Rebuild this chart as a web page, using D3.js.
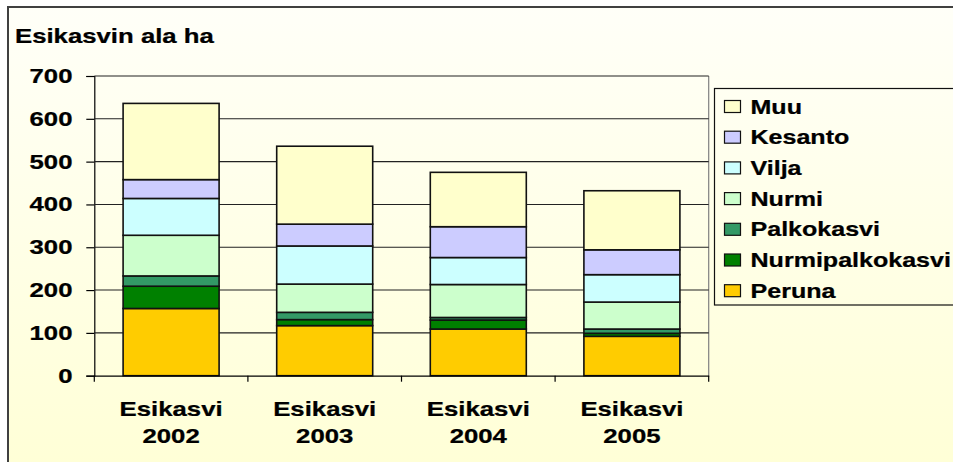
<!DOCTYPE html>
<html><head><meta charset="utf-8">
<script src="https://cdn.jsdelivr.net/npm/d3@7"></script>
<style>html,body{margin:0;padding:0;background:#fff;}svg{display:block;}</style>
</head><body>
<script>
// ---- data ----
const categories = ["Esikasvi 2002", "Esikasvi 2003", "Esikasvi 2004", "Esikasvi 2005"];
const seriesNames = ["Peruna", "Nurmipalkokasvi", "Palkokasvi", "Nurmi", "Vilja", "Kesanto", "Muu"];
const peruna = [157, 117, 109, 92];
const nurmipalkokasvi = [52, 14, 21, 7];
const palkokasvi = [24, 17, 6, 10];
const nurmi = [95, 66, 77, 63];
const vilja = [86, 89, 63, 64];
const kesanto = [44, 51, 72, 58];
const muu = [178, 182, 127, 138];
const yTicks = [0, 100, 200, 300, 400, 500, 600, 700];
const title = "Esikasvin ala ha";
const colors = ["#FFCC00", "#008000", "#339966", "#CCFFCC", "#CCFFFF", "#CCCCFF", "#FFFFCC"];

const seriesValues = [peruna, nurmipalkokasvi, palkokasvi, nurmi, vilja, kesanto, muu];
const rows = categories.map((c, i) => {
  const r = {cat: c};
  seriesNames.forEach((s, j) => r[s] = seriesValues[j][i]);
  return r;
});

const W = 953, H = 462;
const FONT = "'Liberation Sans', Arial, sans-serif";
const FS = 19.5, SX = 1.32;

const svg = d3.select("body").append("svg").attr("width", W).attr("height", H);
const defs = svg.append("defs");
const grad = defs.append("linearGradient").attr("id", "bg").attr("x1", 0).attr("y1", 0).attr("x2", 0).attr("y2", 1);
grad.append("stop").attr("offset", "0%").attr("stop-color", "#FFFFF8");
grad.append("stop").attr("offset", "100%").attr("stop-color", "#FFFFD6");

// chart frame
svg.append("rect").attr("x", 8).attr("y", 7).attr("width", W).attr("height", H)
  .attr("fill", "url(#bg)").attr("stroke", "#404040").attr("stroke-width", 2);

const m = {left: 94.3, right: 708.7, top: 76, bottom: 375.7};
const x = d3.scaleBand().domain(categories).range([m.left, m.right]).paddingInner(0.375).paddingOuter(0.1875);
const y = d3.scaleLinear().domain([0, 700]).range([m.bottom, m.top]);

function stretchedText(g, tx, ty, str, anchor, sx) {
  return g.append("text")
    .attr("transform", `translate(${tx},${ty}) scale(${sx || SX},1)`)
    .attr("text-anchor", anchor)
    .attr("font-family", FONT).attr("font-weight", "bold").attr("font-size", FS)
    .attr("fill", "#000").attr("stroke", "#000").attr("stroke-width", 0.25)
    .text(str);
}

// plot area right border
svg.append("line").attr("x1", m.right).attr("x2", m.right).attr("y1", m.top).attr("y2", m.bottom)
  .attr("stroke", "#808080").attr("stroke-width", 1.2);

// gridlines + y axis
const yAxis = d3.axisLeft(y).tickValues(yTicks).tickSize(8).tickFormat("");
const ga = svg.append("g").attr("transform", `translate(${m.left},0)`).call(yAxis);
ga.select(".domain").attr("stroke", "#000").attr("stroke-width", 1.2);
ga.selectAll(".tick line").attr("stroke", "#000").attr("stroke-width", 1.2);
svg.append("g").selectAll("line").data(yTicks.filter(t => t > 0)).join("line")
  .attr("x1", m.left).attr("x2", m.right)
  .attr("y1", d => y(d)).attr("y2", d => y(d))
  .attr("stroke", "#222").attr("stroke-width", 1.1);
const yl = svg.append("g");
yTicks.forEach(t => stretchedText(yl, 72.5, y(t) + 7, String(t), "end"));

// bars
const stack = d3.stack().keys(seriesNames)(rows);
const bars = svg.append("g");
stack.forEach((layer, j) => {
  bars.append("g").attr("fill", colors[j]).selectAll("rect").data(layer).join("rect")
    .attr("x", d => x(d.data.cat))
    .attr("width", x.bandwidth())
    .attr("y", d => y(d[1]))
    .attr("height", d => y(d[0]) - y(d[1]))
    .attr("stroke", "#111").attr("stroke-width", 1.6);
});

// x axis
const xAxis = d3.axisBottom(x).tickSize(0).tickFormat("");
const gx = svg.append("g").attr("transform", `translate(0,${m.bottom})`).call(xAxis);
gx.select(".domain").attr("stroke", "#000").attr("stroke-width", 1.2);
const step = x.step();
const bounds = d3.range(categories.length + 1).map(i => m.left + i * step);
svg.append("g").selectAll("line").data(bounds).join("line")
  .attr("x1", d => d).attr("x2", d => d).attr("y1", m.bottom).attr("y2", m.bottom + 6)
  .attr("stroke", "#000").attr("stroke-width", 1.2);
const xl = svg.append("g");
categories.forEach(c => {
  const cx = x(c) + x.bandwidth() / 2;
  const parts = c.split(" ");
  stretchedText(xl, cx, 416, parts[0], "middle");
  stretchedText(xl, cx, 442.5, parts[1], "middle");
});

// title
stretchedText(svg, 15, 42.7, title, "start");

// legend
const lg = svg.append("g");
lg.append("rect").attr("x", 714.5).attr("y", 88.5).attr("width", 260).attr("height", 216.5)
  .attr("fill", "none").attr("stroke", "#111").attr("stroke-width", 1.2);
const legendOrder = seriesNames.slice().reverse();
legendOrder.forEach((s, i) => {
  const j = seriesNames.indexOf(s);
  const cy = 106.5 + i * 30.7;
  lg.append("rect").attr("x", 724.5).attr("y", cy - 6).attr("width", 16).attr("height", 12)
    .attr("fill", colors[j]).attr("stroke", "#111").attr("stroke-width", 1.2);
  stretchedText(lg, 750.5, cy + 7, s, "start", 1.285);
});
</script>
</body></html>
